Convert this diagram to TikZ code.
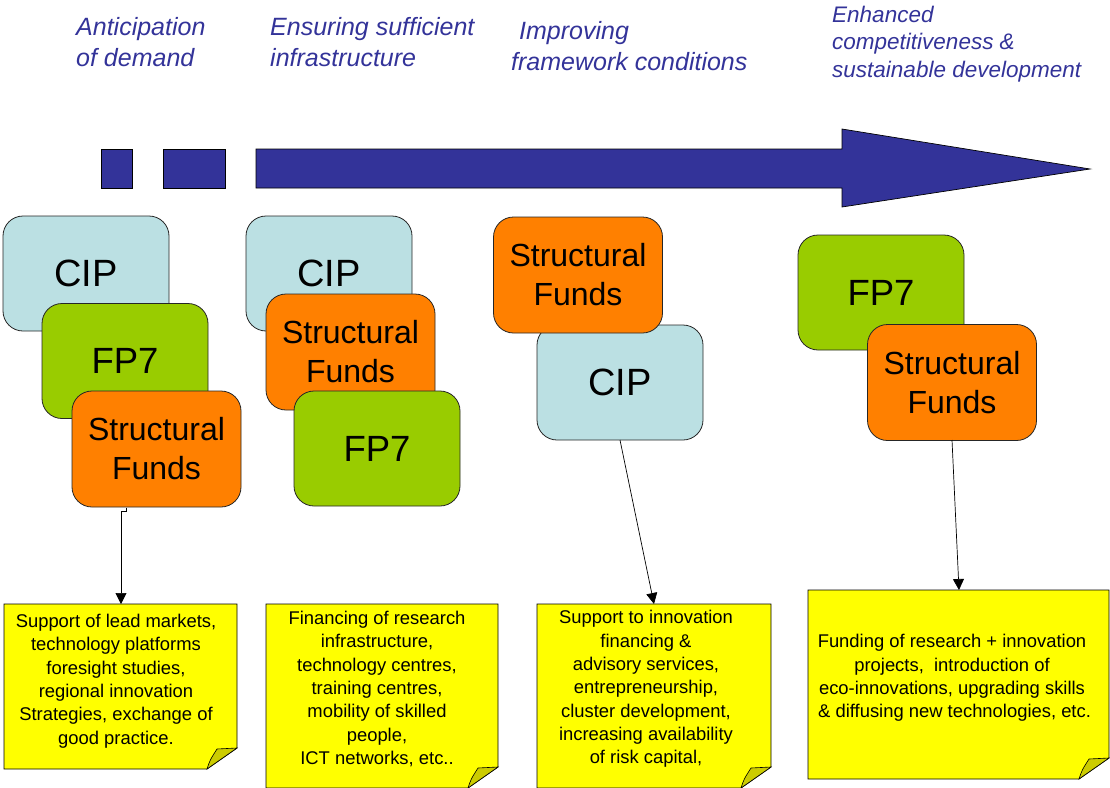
\documentclass[tikz,border=0pt]{standalone}
\usepackage{fontspec}
\setmainfont{Liberation Sans}
\usetikzlibrary{arrows.meta,calc}
\definecolor{hdr}{HTML}{333399}
\definecolor{cipcol}{HTML}{BBE0E3}
\definecolor{fpcol}{HTML}{99CC00}
\definecolor{sfcol}{HTML}{FF8000}
\definecolor{notecol}{HTML}{FFFF00}
\definecolor{foldcol}{HTML}{CCCC00}
\definecolor{arrcol}{HTML}{333399}
\newcommand\notesheet[4]{%
  \path[notebg] (#1,#2) -- (#3,#2) -- (#3,#4-21) -- (#3-30,#4) -- (#1,#4) -- cycle;
  \path[foldbg] (#3-30,#4) .. controls (#3-27,#4-9) .. (#3-20,#4-20) -- (#3,#4-21) -- cycle;}
\begin{document}
\begin{tikzpicture}[x=1pt,y=-1pt,
  prog/.style={draw=black!85, line width=0.8pt, rounded corners=20pt, minimum width=166pt, minimum height=115pt, inner sep=0pt, align=center, text=black},
  cipbox/.style={prog, fill=cipcol, font=\fontsize{38}{44}\selectfont},
  fpbox/.style={prog, fill=fpcol, font=\fontsize{36.5}{44}\selectfont},
  sfbox/.style={prog, fill=sfcol, minimum width=169pt, minimum height=116pt, font=\fontsize{32}{39}\selectfont},
  hdrtext/.style={anchor=base west, align=left, text=hdr, inner sep=0pt, font=\fontsize{25}{30.5}\selectfont\itshape},
  notetext/.style={align=center, inner sep=0pt, font=\fontsize{18.4}{23.3}\selectfont},
  notebg/.style={draw=black, line width=0.8pt, fill=notecol},
  foldbg/.style={draw=black, line width=0.6pt, fill=foldcol},
  conn/.style={draw=black, line width=0.7pt, -{Triangle[length=11pt,width=11pt]}},
  bigarrow/.style={draw=black, line width=0.7pt, fill=arrcol}]
\useasboundingbox (0,0) rectangle (1110,787);

% headers (anchor = baseline of last line)
\node[hdrtext] (h1) at (76,66) {Anticipation\\of demand};
\node[hdrtext] (h2) at (270,66) {Ensuring sufficient\\infrastructure};
\node[hdrtext] (h3) at (511,70) {\hspace*{8pt}Improving\\framework conditions};
\node[hdrtext, font=\fontsize{22.5}{27.5}\selectfont\itshape] (h4) at (832,77) {Enhanced\\competitiveness \&\\sustainable development};

% big arrow
\path[bigarrow] (101,149) rectangle (132,188);
\path[bigarrow] (163,149) rectangle (225,188);
\path[bigarrow] (256,149) -- (842,149) -- (842,129) -- (1090,169) -- (842,207) -- (842,188) -- (256,188) -- cycle;

% cluster 1
\node[cipbox] (cip1) at (86,273.5) {CIP};
\node[fpbox] (fp1) at (125,361) {FP7};
\node[sfbox] (sf1) at (156.5,449) {Structural\\Funds};
% cluster 2
\node[cipbox] (cip2) at (329,273.5) {CIP};
\node[sfbox] (sf2) at (350.5,352) {Structural\\Funds};
\node[fpbox] (fp2) at (377,448.5) {FP7};
% cluster 3
\node[cipbox] (cip3) at (620,382.5) {CIP};
\node[sfbox] (sf3) at (578,275) {Structural\\Funds};
% cluster 4
\node[fpbox] (fp4) at (881,292.5) {FP7};
\node[sfbox] (sf4) at (952,382.5) {Structural\\Funds};

% notes
\notesheet{4}{604}{237}{769}
\notesheet{266}{604}{498}{788}
\notesheet{537}{604}{771}{788}
\notesheet{808}{590}{1109}{779}
\coordinate (n1) at (120.5,604);
\coordinate (n3) at (654,604);
\coordinate (n4) at (959,590);

\node[notetext] (t1) at (116,681) {Support of lead markets,\\technology platforms\\foresight studies,\\regional innovation\\Strategies, exchange of\\good practice.};
\node[notetext] (t2) at (377,689) {Financing of research\\infrastructure,\\technology centres,\\training centres,\\mobility of skilled\\people,\\ICT networks, etc..};
\node[notetext] (t3) at (646,689) {Support to innovation\\financing \&\\advisory services,\\entrepreneurship,\\cluster development,\\increasing availability\\of risk capital,};
\node[notetext] (t4) at (952,678) {Funding of research + innovation\\projects,\ \ introduction of\\eco-innovations, upgrading skills\\\ \& diffusing new technologies, etc.};

% connectors
\coordinate (a1) at (126,507.5);
\coordinate (b1) at (121,511);
\draw[conn] (a1) |- (b1) -- (b1 |- n1);
\coordinate (a3) at (620,440);
\draw[conn] (a3) -- (n3);
\coordinate (a4) at (952,440);
\draw[conn] (a4) -- (n4);
\end{tikzpicture}
\end{document}
